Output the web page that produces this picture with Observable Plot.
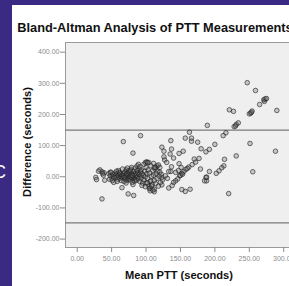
<!DOCTYPE html>
<html>
<head>
<meta charset="utf-8">
<script src="https://cdn.jsdelivr.net/npm/d3@7"></script>
<script src="https://cdn.jsdelivr.net/npm/@observablehq/plot@0.6"></script>
<style>
  html, body { margin: 0; padding: 0; width: 289px; height: 286px; overflow: hidden; background: #fff; }
  #page { position: relative; width: 289px; height: 286px; overflow: hidden; font-family: "Liberation Sans", Arial, sans-serif; }
  .abs { position: absolute; }
  #plot { position: absolute; left: 0; top: 0; width: 330px; height: 286px; }
  #plot svg { max-width: none !important; display: block; }
</style>
</head>
<body>
<div id="page">
  <div id="plot"></div>
  <svg class="abs" style="left:0;top:0" width="289" height="286">
    <rect x="0" y="0" width="12" height="286" fill="#3a2a84"></rect>
    <rect x="0" y="0" width="289" height="5" fill="#3a2a84"></rect>
    <text x="-7" y="178" fill="#fff" font-size="18" font-family="Liberation Sans, Arial, sans-serif">C</text>
    <text id="title" x="17.3" y="32" font-size="12.8" font-weight="bold" fill="#111" font-family="Liberation Sans, Arial, sans-serif"></text>
    <text id="xlabel" x="179" y="278.5" text-anchor="middle" font-size="11.1" font-weight="bold" fill="#111" font-family="Liberation Sans, Arial, sans-serif"></text>
    <text id="ylabel" transform="translate(31,142) rotate(-90)" text-anchor="middle" font-size="11.1" font-weight="bold" fill="#111" font-family="Liberation Sans, Arial, sans-serif"></text>
  </svg>
</div>
<script>
const titleText = "Bland-Altman Analysis of PTT Measurements";
const xLabelText = "Mean PTT (seconds)";
const yLabelText = "Difference (seconds)";

const xTicks = [0, 50, 100, 150, 200, 250, 300];
const yTicks = [-200, -100, 0, 100, 200, 300, 400];
const limitsOfAgreement = [150, -148];

// Mean PTT (seconds) for each measurement pair
const meanPTT = [
  247,259,265,272,271,273,275,290,252,254,250,253,221,227,189,234,231,228,230,216,212,163,157,166,166,175,200,180,187,192,251,288,231,214,213,210,206,202,192,188,188,255,220,
  149,152,155,158,162,167,172,177,146,143,150,153,160,170,148,151,147,179,187,185,
  152,157,164,137,135,140,148,154,126,127,130,137,143,136,133,133,123,123,
  92,67,81,36,74,82,106,106,
  27,28,33,36,39,40,37,38,31,48,53,
  101,104,111,116,120,99,114,
  46,48,50,52,47,53,55,51,54,49,
  56,57,58,59,60,61,62,63,64,58,60,62,64,57,
  65,66,67,68,69,70,70,71,72,72,73,74,74,75,66,68,71,73,75,67,69,72,
  76,76,77,78,78,79,80,80,81,82,82,83,84,84,85,77,79,81,83,85,78,80,
  86,86,87,88,88,89,90,90,91,92,92,93,94,95,87,89,91,94,93,
  96,97,98,99,100,100,101,102,103,104,105,106,107,108,109,110,97,102,99,105,
  111,112,113,114,115,116,117,118,119,120,121,122,124,118,112,
  65,128,131,140,138,107,102,108,112,112,110,123,126,136
];
// Difference (seconds) for each measurement pair
const diffPTT = [
  302,277,232,242,247,250,251,213,204,211,202,207,215,210,165,173,168,161,163,141,132,143,124,124,114,111,104,90,80,88,107,82,67,56,35,29,19,11,17,-1,-13,16,-54,
  3,11,17,24,31,39,47,59,-7,-13,5,8,27,57,42,30,20,25,-2,-13,
  -41,-47,-40,89,73,60,75,82,64,54,46,32,14,17,17,-36,-2,-26,
  132,113,76,-71,-55,-60,-45,-36,
  -2,-9,22,16,13,-11,10,5,18,14,-18,
  48,46,43,35,30,46,30,
  10,3,-5,8,-8,0,12,-12,-3,15,
  5,-2,10,-8,3,15,-5,8,0,-15,20,12,-12,18,
  5,-3,10,0,15,-8,6,22,2,-12,12,-4,18,8,25,-15,-20,28,-8,4,-2,9,
  0,14,-10,6,24,-3,10,-18,2,18,-6,8,-2,28,12,20,30,-25,-14,-8,-1,4,
  5,-12,20,0,12,-6,25,8,-15,3,16,-4,10,-20,35,40,32,-28,22,
  5,-10,18,0,30,-20,10,-5,22,-30,12,-15,35,2,-25,20,40,45,-32,-38,
  5,-12,25,-22,10,-5,18,-30,2,15,-18,8,-10,38,30,
  -35,3,-5,-18,-28,-13,-20,-30,-40,-48,-43,95,82,116
];

const data = meanPTT.map((m, i) => ({mean: m, diff: diffPTT[i]}));
const fmt = d => d.toFixed(2);

document.getElementById("title").textContent = titleText;
document.getElementById("xlabel").textContent = xLabelText;
document.getElementById("ylabel").textContent = yLabelText;

const chart = Plot.plot({
  width: 330,
  height: 286,
  marginLeft: 65,
  marginTop: 42,
  marginBottom: 39,
  marginRight: 33,
  style: {fontFamily: "Liberation Sans, Arial, sans-serif", fontSize: "7px", color: "#8a8a8a", background: "transparent", overflow: "visible", maxWidth: "none"},
  x: {domain: [-17, 320]},
  y: {domain: [-227, 431]},
  marks: [
    Plot.frame({fill: "#efefef", stroke: "#9a9a9a", strokeWidth: 1}),
    Plot.ruleY(limitsOfAgreement, {stroke: "#7a7a7a", strokeWidth: 1.3}),
    Plot.dot(data, {x: "mean", y: "diff", r: 2.3, fill: "#666", fillOpacity: 0.3, stroke: "#222", strokeOpacity: 0.7, strokeWidth: 0.9}),
    Plot.axisX({ticks: xTicks, tickFormat: fmt, tickSize: 5, tickPadding: 4, label: null, stroke: "#8a8a8a"}),
    Plot.axisY({ticks: yTicks, tickFormat: fmt, tickSize: 5, tickPadding: 1, label: null, stroke: "#8a8a8a"})
  ]
});
document.getElementById("plot").appendChild(chart);
</script>
</body>
</html>
